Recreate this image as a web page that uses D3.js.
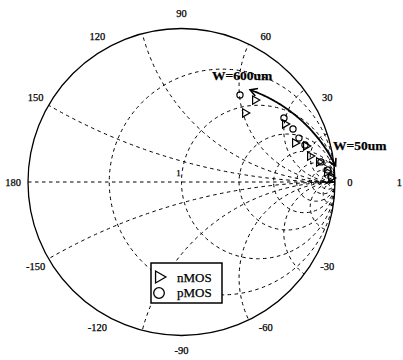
<!DOCTYPE html>
<html>
<head>
<meta charset="utf-8">
<script src="https://cdn.jsdelivr.net/npm/d3@7"></script>
<style>
  html, body { margin: 0; padding: 0; background: #fff; }
  svg { display: block; }
  text { font-family: "Liberation Serif", "Times New Roman", serif; fill: #000; stroke: #000; stroke-width: 0.25; }
</style>
</head>
<body>
<svg id="chart" width="403" height="360"></svg>
<script>
// Reflection coefficient of the input (|Γ|, angle in degrees), W from 600um down to 50um
const nmosMag = [0.717, 0.611, 0.773, 0.782, 0.844, 0.854, 0.905, 0.950, 0.975];
const nmosAng = [48.1, 47.4, 29.3, 19.0, 16.1, 11.4, 8.3, 3.9, 1.5];
const pmosMag = [0.683, 0.787, 0.804, 0.817, 0.840, 0.918, 0.957, 0.974];
const pmosAng = [56.1, 32.0, 25.4, 20.5, 16.7, 8.2, 4.7, 1.9];

// Smith grid: constant-resistance circles and constant-reactance arcs
const rGrid = [0.36, 1, 2.2, 4, 7, 12, 20, 40];
const xGrid = [0.268, 0.77, 1.6, 3.0, 6.2, 13];

// Polar angle tick labels
const angleTicks = [0, 30, 60, 90, 120, 150, 180, -150, -120, -90, -60, -30];

const cx = 181.5, cy = 182, R = 153.5;
const sx = d3.scaleLinear().domain([-1, 1]).range([cx - R, cx + R]);
const sy = d3.scaleLinear().domain([-1, 1]).range([cy + R, cy - R]);
const len = d3.scaleLinear().domain([0, 1]).range([0, R]);

const svg = d3.select("#chart");

svg.append("defs").append("clipPath").attr("id", "unit")
  .append("circle").attr("cx", sx(0)).attr("cy", sy(0)).attr("r", len(1));

const grid = svg.append("g").attr("clip-path", "url(#unit)")
  .attr("fill", "none").attr("stroke", "#000")
  .attr("stroke-width", 1).attr("stroke-dasharray", "3.5,3.5");

grid.selectAll("circle.r").data(rGrid).join("circle").attr("class", "r")
  .attr("cx", r => sx(r / (1 + r))).attr("cy", sy(0))
  .attr("r", r => len(1 / (1 + r)));

grid.selectAll("circle.xp").data(xGrid).join("circle").attr("class", "xp")
  .attr("cx", sx(1)).attr("cy", x => sy(1 / x)).attr("r", x => len(1 / x));
grid.selectAll("circle.xn").data(xGrid).join("circle").attr("class", "xn")
  .attr("cx", sx(1)).attr("cy", x => sy(-1 / x)).attr("r", x => len(1 / x));

grid.append("line").attr("x1", sx(-1)).attr("x2", sx(1))
  .attr("y1", sy(0)).attr("y2", sy(0));

// outer boundary
svg.append("circle").attr("cx", sx(0)).attr("cy", sy(0)).attr("r", len(1))
  .attr("fill", "none").attr("stroke", "#000").attr("stroke-width", 1.3);

// angle labels
const rad = d => d * Math.PI / 180;
svg.selectAll("text.ang").data(angleTicks).join("text").attr("class", "ang")
  .attr("x", a => sx(1.097 * Math.cos(rad(a))))
  .attr("y", a => sy(1.097 * Math.sin(rad(a))) + 3.5)
  .attr("text-anchor", "middle").attr("font-size", 10.5)
  .text(a => a);

svg.append("text").attr("x", sx(1.42)).attr("y", sy(0) + 3.5)
  .attr("text-anchor", "middle").attr("font-size", 10.5).text("1");
svg.append("text").attr("x", sx(-0.02)).attr("y", sy(0.04))
  .attr("text-anchor", "middle").attr("font-size", 9).text("1");

// W sweep arrow
const arcC = [0.12, -0.328], arcR = 0.984;
const arcPts = d3.range(70.6, 26.0, -0.5).map(t =>
  [sx(arcC[0] + arcR * Math.cos(rad(t))), sy(arcC[1] + arcR * Math.sin(rad(t)))]);
svg.append("path").attr("d", d3.line()(arcPts))
  .attr("fill", "none").attr("stroke", "#000").attr("stroke-width", 1.8);

function chevron(p, q) {
  // open arrow head at p, pointing away from q
  const dx = p[0] - q[0], dy = p[1] - q[1], L = Math.hypot(dx, dy);
  const ux = dx / L, uy = dy / L, s = 7, w = 4;
  const b = [p[0] - ux * s, p[1] - uy * s];
  return `M${b[0] - uy * w},${b[1] + ux * w}L${p[0]},${p[1]}L${b[0] + uy * w},${b[1] - ux * w}`;
}
svg.append("path").attr("d", chevron(arcPts[0], arcPts[4]) + chevron(arcPts[arcPts.length - 1], arcPts[arcPts.length - 5]))
  .attr("fill", "none").attr("stroke", "#000").attr("stroke-width", 1.6);

svg.append("text").attr("x", 212).attr("y", 80).attr("font-size", 13.5)
  .attr("font-weight", "bold").text("W=600um");
svg.append("text").attr("x", 333).attr("y", 150).attr("font-size", 13.5)
  .attr("font-weight", "bold").text("W=50um");

// data markers
const tri = d3.symbol().type(d3.symbolTriangle).size(30);
svg.append("g").selectAll("path").data(nmosMag).join("path")
  .attr("d", tri)
  .attr("transform", (m, i) => `translate(${sx(m * Math.cos(rad(nmosAng[i])))},${sy(m * Math.sin(rad(nmosAng[i])))}) rotate(90)`)
  .attr("fill", "none").attr("stroke", "#000").attr("stroke-width", 1.2);

svg.append("g").selectAll("circle").data(pmosMag).join("circle")
  .attr("cx", (m, i) => sx(m * Math.cos(rad(pmosAng[i]))))
  .attr("cy", (m, i) => sy(m * Math.sin(rad(pmosAng[i]))))
  .attr("r", 3.1)
  .attr("fill", "none").attr("stroke", "#000").attr("stroke-width", 1.2);

// legend
const lg = svg.append("g").attr("transform", "translate(151,263)");
lg.append("rect").attr("width", 71).attr("height", 40)
  .attr("fill", "#fff").attr("stroke", "#000").attr("stroke-width", 1.5);
lg.append("path").attr("d", d3.symbol().type(d3.symbolTriangle).size(62)())
  .attr("transform", "translate(8,14) rotate(90)")
  .attr("fill", "none").attr("stroke", "#000").attr("stroke-width", 1.3);
lg.append("circle").attr("cx", 8).attr("cy", 30).attr("r", 5.3)
  .attr("fill", "none").attr("stroke", "#000").attr("stroke-width", 1.3);
lg.append("text").attr("x", 26).attr("y", 19).attr("font-size", 13).text("nMOS");
lg.append("text").attr("x", 26).attr("y", 34).attr("font-size", 13).text("pMOS");
</script>
</body>
</html>
